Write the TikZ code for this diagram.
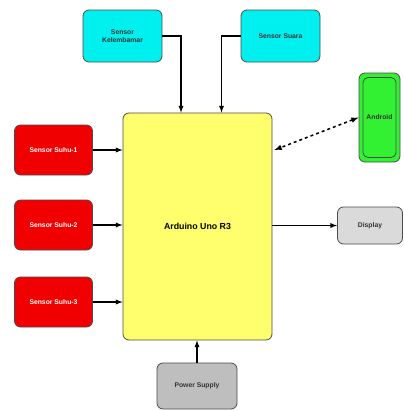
\documentclass[tikz,border=0pt]{standalone}
\usepackage{fontspec}
\setmainfont{Liberation Sans}
\usetikzlibrary{arrows,positioning,calc}
\tikzstyle{arrow} = [line width=1.3pt, ->, >=latex]
\tikzstyle{blok} = [draw=black!70, line width=0.8pt, rounded corners=6pt, align=center, font=\fontsize{6.8}{7.8}\selectfont\bfseries]
\definecolor{biru}{RGB}{0,240,240}
\definecolor{merah}{RGB}{240,0,0}
\definecolor{kuning}{RGB}{255,255,110}
\definecolor{hijau}{RGB}{50,240,50}
\definecolor{abu}{RGB}{218,218,218}
\definecolor{abutua}{RGB}{190,190,190}

\begin{document}
\begin{tikzpicture}[x=1pt,y=-1pt]
\useasboundingbox (0,0) rectangle (404,410);
% blok utama
\node[blok, fill=kuning, minimum width=149pt, minimum height=227pt, font=\fontsize{8.8}{10}\selectfont\bfseries] (arduino) at (197.5,226.5) {Arduino Uno R3};
% sensor atas
\node[blok, fill=biru, minimum width=79pt, minimum height=52pt, text=black!80] (lembab) at (122.5,36) {Sensor\\Kelembamar};
\node[blok, fill=biru, minimum width=79pt, minimum height=52pt, text=black!80] (suara) at (280.5,36) {Sensor Suara};
% sensor suhu
\node[blok, fill=merah, minimum width=78pt, minimum height=50pt, text=white] (suhu1) at (53.5,150) {Sensor Suhu-1};
\node[blok, fill=merah, minimum width=78pt, minimum height=50pt, text=white] (suhu2) at (53.5,225) {Sensor Suhu-2};
\node[blok, fill=merah, minimum width=78pt, minimum height=50pt, text=white] (suhu3) at (53.5,302) {Sensor Suhu-3};
% keluaran
\node[blok, fill=hijau, minimum width=41pt, minimum height=89pt] (android) at (379.5,117.5) {};
\node[blok, rounded corners=5pt, minimum width=33pt, minimum height=80pt, text=black!80] (androidin) at (android) {Android};
\node[blok, fill=abu, minimum width=65pt, minimum height=37pt, text=black!80] (display) at (370,225.5) {Display};
\node[blok, fill=abutua, minimum width=80pt, minimum height=46pt, text=black!80] (power) at (197,386) {Power Supply};

\draw[arrow] (lembab.east) -| ([xshift=-16.5pt]arduino.north);
\draw[arrow] (suara.west) -| ([xshift=24pt]arduino.north);
\draw[arrow] (suhu1.east) -- (suhu1 -| arduino.west);
\draw[arrow] (suhu2.east) -- (suhu2 -| arduino.west);
\draw[arrow] (suhu3.east) -- (suhu3 -| arduino.west);
\draw[line width=1.5pt, dashed, <->, >=latex] (android.west) -- ([xshift=2pt]arduino.east |- suhu1);
\draw[arrow] (arduino.east |- display.west) -- (display.west);
\draw[arrow] (power.north) -- (power |- arduino.south);
\end{tikzpicture}
\end{document}
